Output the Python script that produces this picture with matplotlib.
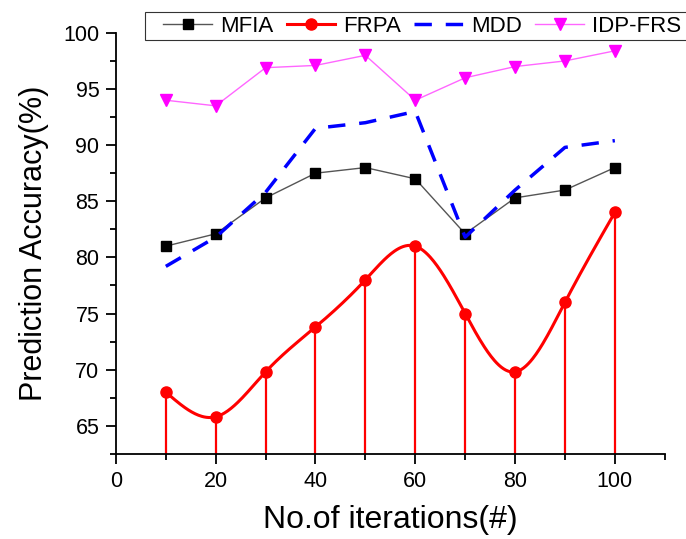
import numpy as np
import matplotlib
matplotlib.use("Agg")
import matplotlib.pyplot as plt
from matplotlib.patches import Rectangle
from matplotlib.ticker import MultipleLocator

plt.rcParams['font.family'] = ['Liberation Sans', 'DejaVu Sans']

iters = [10, 20, 30, 40, 50, 60, 70, 80, 90, 100]
mfia = [81.0, 82.1, 85.3, 87.5, 88.0, 87.0, 82.1, 85.3, 86.0, 88.0]
frpa = [68.0, 65.8, 69.8, 73.8, 78.0, 81.0, 75.0, 69.8, 76.0, 84.0]
mdd = [79.2, 81.8, 85.8, 91.5, 92.0, 93.0, 81.8, 86.0, 89.8, 90.4]
idp_frs = [94.0, 93.5, 96.9, 97.1, 98.0, 94.0, 96.0, 97.0, 97.5, 98.4]


def natural_spline(x, y, n=400):
    # plain natural cubic spline, just for drawing the smooth FRPA curve
    x = np.asarray(x, float)
    y = np.asarray(y, float)
    k = len(x)
    h = np.diff(x)
    A = np.zeros((k, k))
    b = np.zeros(k)
    A[0, 0] = A[-1, -1] = 1
    for i in range(1, k - 1):
        A[i, i - 1] = h[i - 1]
        A[i, i] = 2 * (h[i - 1] + h[i])
        A[i, i + 1] = h[i]
        b[i] = 3 * ((y[i + 1] - y[i]) / h[i] - (y[i] - y[i - 1]) / h[i - 1])
    c = np.linalg.solve(A, b)
    xs = np.linspace(x[0], x[-1], n)
    idx = np.clip(np.searchsorted(x, xs) - 1, 0, k - 2)
    dx = xs - x[idx]
    hi = h[idx]
    bi = (y[idx + 1] - y[idx]) / hi - hi * (2 * c[idx] + c[idx + 1]) / 3
    di = (c[idx + 1] - c[idx]) / (3 * hi)
    ys = y[idx] + bi * dx + c[idx] * dx ** 2 + di * dx ** 3
    return xs, ys


fig = plt.figure(figsize=(6.86, 5.39), dpi=100)
ax = fig.add_axes([0.169, 0.158, 0.80, 0.781])

ymin = 62.5
ax.plot(iters, mfia, color='#555555', lw=1, marker='s', ms=7,
        mfc='black', mec='black', label='MFIA')

xs, ys = natural_spline(iters, frpa)
ax.vlines(iters, ymin, frpa, color='red', lw=1.6)
ax.plot(xs, ys, color='red', lw=2.2)
ax.plot(iters, frpa, 'o', color='red', ms=8)
ax.plot([], [], color='red', lw=2.2, marker='o', ms=8, label='FRPA')

ax.plot(iters, mdd, color='blue', lw=2.5, ls=(0, (5, 4)), label='MDD')
ax.plot(iters, idp_frs, color='#ff66ff', lw=1, marker='v', ms=9,
        mfc='magenta', mec='magenta', label='IDP-FRS')

ax.set_xlim(0, 110)
ax.set_ylim(ymin, 100)
ax.xaxis.set_major_locator(MultipleLocator(20))
ax.xaxis.set_minor_locator(MultipleLocator(10))
ax.yaxis.set_minor_locator(MultipleLocator(2.5))
ax.set_yticks([65, 70, 75, 80, 85, 90, 95, 100])
ax.tick_params(which='major', length=7, width=1.3, labelsize=15.5, pad=5)
ax.tick_params(which='minor', length=4, width=1.3)
for s in ['top', 'right']:
    ax.spines[s].set_visible(False)
for s in ['left', 'bottom']:
    ax.spines[s].set_linewidth(1.3)

ax.set_xlabel('No.of iterations(#)', fontsize=23, labelpad=10)
ax.set_ylabel('Prediction Accuracy(%)', fontsize=22, labelpad=10)

# legend frame runs off the right edge in the original, so draw it by hand
frame = Rectangle((0.211, 1 - 40 / 539), 0.85, 28 / 539, transform=fig.transFigure,
                  facecolor='white', edgecolor='#333333', lw=0.8, zorder=4)
fig.patches.append(frame)
leg = fig.legend(loc='center left', bbox_to_anchor=(0.238, 1 - 26 / 539), ncol=4,
                 fontsize=16, frameon=False, handlelength=2.2,
                 columnspacing=0.6, handletextpad=0.35, borderpad=0,
                 borderaxespad=0)
leg.set_zorder(5)

fig.savefig('out.png', dpi=100)
